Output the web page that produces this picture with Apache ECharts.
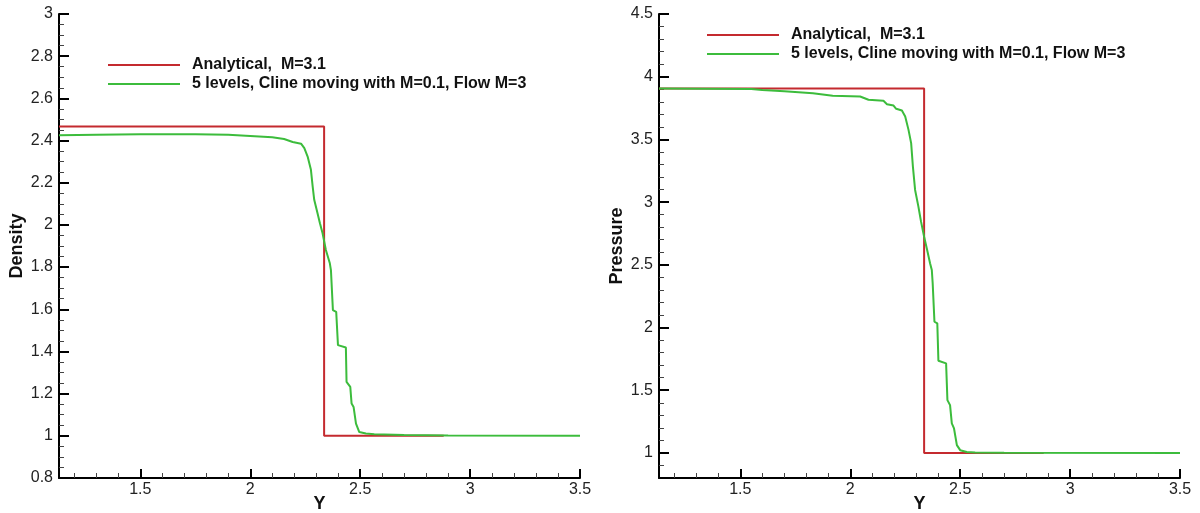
<!DOCTYPE html>
<html>
<head>
<meta charset="utf-8">
<script src="https://cdn.jsdelivr.net/npm/echarts@6/dist/echarts.min.js"></script>
<style>
html,body{margin:0;padding:0;background:#fff;}
#c{width:1200px;height:513px;}
</style>
</head>
<body>
<div id="c"></div>
<script>
// ---- data ----
var seriesNames = ['Analytical,  M=3.1', '5 levels, Cline moving with M=0.1, Flow M=3'];

var analyticX   = [1.13, 2.336, 2.336, 2.88];
var analyticRho = [2.467, 2.467, 1.0, 1.0];
var analyticP   = [3.905, 3.905, 1.0, 1.0];

var rhoX = [1.13, 1.30, 1.50, 1.75, 1.90, 2.00, 2.10, 2.154, 2.193, 2.231, 2.246, 2.261, 2.276, 2.284, 2.291, 2.306, 2.317, 2.329, 2.344, 2.362, 2.367, 2.376, 2.391, 2.399, 2.435, 2.438, 2.455, 2.461, 2.470, 2.481, 2.496, 2.526, 2.564, 2.70, 2.90, 3.50];
var rhoY = [2.425, 2.428, 2.430, 2.430, 2.427, 2.422, 2.416, 2.407, 2.393, 2.385, 2.364, 2.324, 2.261, 2.182, 2.119, 2.055, 2.008, 1.960, 1.881, 1.818, 1.786, 1.596, 1.588, 1.430, 1.419, 1.256, 1.232, 1.153, 1.137, 1.058, 1.018, 1.011, 1.007, 1.004, 1.002, 1.000];

var pX = [1.13, 1.55, 1.60, 1.70, 1.83, 1.92, 2.045, 2.083, 2.151, 2.167, 2.197, 2.209, 2.235, 2.25, 2.265, 2.277, 2.285, 2.295, 2.310, 2.322, 2.336, 2.348, 2.363, 2.371, 2.375, 2.383, 2.396, 2.401, 2.436, 2.442, 2.454, 2.462, 2.472, 2.485, 2.50, 2.53, 2.568, 2.70, 3.50];
var pY = [3.905, 3.902, 3.894, 3.884, 3.868, 3.848, 3.842, 3.816, 3.808, 3.781, 3.770, 3.744, 3.730, 3.683, 3.576, 3.470, 3.283, 3.097, 2.964, 2.844, 2.724, 2.632, 2.512, 2.459, 2.352, 2.046, 2.033, 1.735, 1.714, 1.421, 1.381, 1.235, 1.195, 1.062, 1.022, 1.008, 1.003, 1.002, 1.000];

var xMajorTicks = [1.5, 2, 2.5, 3, 3.5];
var xMinorTicks = [1.2, 1.3, 1.4, 1.6, 1.7, 1.8, 1.9, 2.1, 2.2, 2.3, 2.4, 2.6, 2.7, 2.8, 2.9, 3.1, 3.2, 3.3, 3.4];
var rhoMajorTicks = [0.8, 1, 1.2, 1.4, 1.6, 1.8, 2, 2.2, 2.4, 2.6, 2.8, 3];
var rhoMinorTicks = [0.85, 0.9, 0.95, 1.05, 1.1, 1.15, 1.25, 1.3, 1.35, 1.45, 1.5, 1.55, 1.65, 1.7, 1.75, 1.85, 1.9, 1.95, 2.05, 2.1, 2.15, 2.25, 2.3, 2.35, 2.45, 2.5, 2.55, 2.65, 2.7, 2.75, 2.85, 2.9, 2.95];
var pMajorTicks = [1, 1.5, 2, 2.5, 3, 3.5, 4, 4.5];
var pMinorTicks = [0.9, 1.1, 1.2, 1.3, 1.4, 1.6, 1.7, 1.8, 1.9, 2.1, 2.2, 2.3, 2.4, 2.6, 2.7, 2.8, 2.9, 3.1, 3.2, 3.3, 3.4, 3.6, 3.7, 3.8, 3.9, 4.1, 4.2, 4.3, 4.4];

function zip(a, b) { return a.map(function (v, i) { return [v, b[i]]; }); }

var RED = '#c42a2f', GREEN = '#3cbc3c';
var FONT = 'Liberation Sans, Arial, sans-serif';

function xMajor(g) {
  return {
    type: 'value', gridIndex: g, min: 1.13, max: 3.5, position: 'bottom',
    name: 'Y', nameLocation: 'middle', nameGap: 17, nameMoveOverlap: false,
    nameTextStyle: { fontFamily: FONT, fontWeight: 'bold', fontSize: 18, color: '#111' },
    axisLine: { show: true, onZero: false, lineStyle: { color: '#000', width: 2 } },
    axisTick: { show: true, inside: true, length: 9, customValues: xMajorTicks, lineStyle: { color: '#000', width: 2 } },
    axisLabel: { show: true, customValues: xMajorTicks, fontFamily: FONT, fontSize: 16, color: '#222', margin: 4 },
    splitLine: { show: false }
  };
}
function xMinor(g) {
  return {
    type: 'value', gridIndex: g, min: 1.13, max: 3.5, position: 'bottom',
    axisLine: { show: false, onZero: false },
    axisTick: { show: true, inside: true, length: 5, customValues: xMinorTicks, lineStyle: { color: '#444', width: 1 } },
    axisLabel: { show: false },
    splitLine: { show: false }
  };
}
function yMajor(g, min, max, ticks, name) {
  return {
    type: 'value', gridIndex: g, min: min, max: max, position: 'left',
    name: name, nameLocation: 'middle', nameGap: 33, nameMoveOverlap: false,
    nameTextStyle: { fontFamily: FONT, fontWeight: 'bold', fontSize: 18, color: '#111' },
    axisLine: { show: true, onZero: false, lineStyle: { color: '#000', width: 2 } },
    axisTick: { show: true, inside: true, length: 10, customValues: ticks, lineStyle: { color: '#000', width: 2 } },
    axisLabel: { show: true, customValues: ticks, fontFamily: FONT, fontSize: 16, color: '#222', margin: 6 },
    splitLine: { show: false }
  };
}
function yMinor(g, min, max, ticks) {
  return {
    type: 'value', gridIndex: g, min: min, max: max, position: 'left',
    axisLine: { show: false, onZero: false },
    axisTick: { show: true, inside: true, length: 5, customValues: ticks, lineStyle: { color: '#444', width: 1 } },
    axisLabel: { show: false },
    splitLine: { show: false }
  };
}
function legendAt(left, top) {
  return {
    orient: 'vertical', left: left, top: top, padding: 0,
    icon: 'rect', itemWidth: 72, itemHeight: 2, itemGap: 3,
    data: seriesNames,
    textStyle: { fontFamily: FONT, fontWeight: 'bold', fontSize: 16, lineHeight: 16, color: '#111', padding: [0, 0, 0, 7] }
  };
}
function lineSeries(name, xi, yi, data, color, z) {
  return {
    name: name, type: 'line', xAxisIndex: xi, yAxisIndex: yi,
    data: data, showSymbol: false, symbol: 'none', z: z,
    lineStyle: { color: color, width: 2 }, itemStyle: { color: color },
    animation: false
  };
}

var chart = echarts.init(document.getElementById('c'), null, { renderer: 'canvas' });
chart.setOption({
  backgroundColor: '#fff',
  animation: false,
  grid: [
    { left: 59, top: 14, width: 521, height: 464, outerBoundsMode: 'none', containLabel: false },
    { left: 659, top: 14, width: 521, height: 464, outerBoundsMode: 'none', containLabel: false }
  ],
  legend: [legendAt(108, 57), legendAt(707, 27)],
  xAxis: [xMajor(0), xMinor(0), xMajor(1), xMinor(1)],
  yAxis: [
    yMajor(0, 0.8, 3, rhoMajorTicks, 'Density'), yMinor(0, 0.8, 3, rhoMinorTicks),
    yMajor(1, 0.8, 4.5, pMajorTicks, 'Pressure'), yMinor(1, 0.8, 4.5, pMinorTicks)
  ],
  series: [
    lineSeries(seriesNames[0], 0, 0, zip(analyticX, analyticRho), RED, 2),
    lineSeries(seriesNames[1], 0, 0, zip(rhoX, rhoY), GREEN, 3),
    lineSeries(seriesNames[0], 2, 2, zip(analyticX, analyticP), RED, 2),
    lineSeries(seriesNames[1], 2, 2, zip(pX, pY), GREEN, 3)
  ]
});
</script>
</body>
</html>
